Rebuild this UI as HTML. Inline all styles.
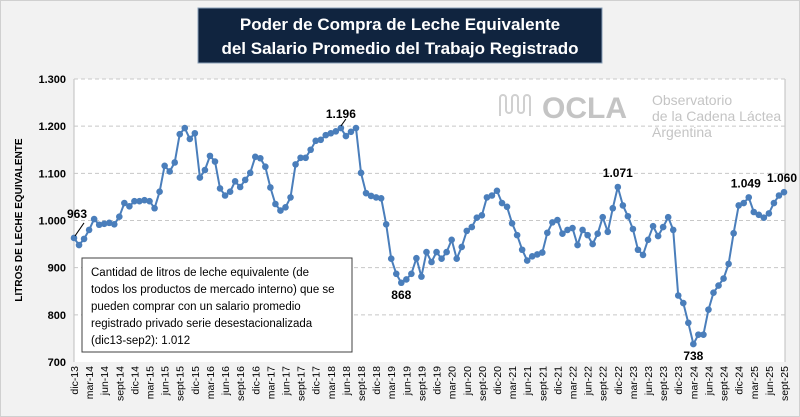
<!DOCTYPE html>
<html><head><meta charset="utf-8"><style>
html,body{margin:0;padding:0;background:#f2f2f2;}
svg{display:block;font-family:"Liberation Sans",sans-serif;}
</style></head><body>
<svg id="chart" width="800" height="417" viewBox="0 0 800 417">
<rect x="0.5" y="0.5" width="799" height="416" fill="#f2f2f2" stroke="#d0d0d0"/>
<rect x="74" y="79" width="711" height="283" fill="#ffffff"/>
<line x1="785" y1="79" x2="785" y2="362" stroke="#bfbfbf"/>
<line x1="74" y1="79" x2="74" y2="362" stroke="#bfbfbf"/>
<g>
<rect x="198" y="8" width="404" height="55" fill="#10243f" stroke="#8aa0b8"/>
<text x="400" y="30" text-anchor="middle" fill="#fff" font-size="17" font-weight="bold">Poder de Compra de Leche Equivalente</text>
<text x="400" y="54" text-anchor="middle" fill="#fff" font-size="17" font-weight="bold">del Salario Promedio del Trabajo Registrado</text>
</g>
<g fill="#c8c8c8">
<path d="M500 116 v-18 a3 3 0 0 1 6 0 v12 a3 3 0 0 0 6 0 v-12 a3 3 0 0 1 6 0 v12 a3 3 0 0 0 6 0 v-12 a3 3 0 0 1 6 0 v18" fill="none" stroke="#d0d0d0" stroke-width="2"/>
<text x="542" y="118" font-size="30" font-weight="bold" fill="#c4c4c4">OCLA</text>
<text x="652" y="105" font-size="14" fill="#c4c4c4">Observatorio</text>
<text x="652" y="121" font-size="14" fill="#c4c4c4">de la Cadena Láctea</text>
<text x="652" y="137" font-size="14" fill="#c4c4c4">Argentina</text>
</g>
<g id="grid"></g><g id="yticks"></g><g id="xticks"></g>
<text transform="translate(22,220) rotate(-90)" text-anchor="middle" font-size="10" font-weight="bold" fill="#000">LITROS DE LECHE EQUIVALENTE</text>
<g id="series"></g>
<g>
<rect x="82" y="258" width="270" height="94" fill="#fff" stroke="#404040"/>
<text font-size="11.5" fill="#000">
<tspan x="91" y="276">Cantidad de litros de leche equivalente (de</tspan>
<tspan x="91" y="293">todos los productos de mercado interno) que se</tspan>
<tspan x="91" y="310">pueden comprar con un salario promedio</tspan>
<tspan x="91" y="327">registrado privado serie desestacionalizada</tspan>
<tspan x="91" y="344">(dic13-sep2): 1.012</tspan>
</text>
</g>
<g id="labels"></g>
</svg>
<script>
const values=[963,948,961,980,1003,991,993,995,992,1008,1037,1030,1041,1041,1043,1041,1026,1061,1116,1104,1123,1183,1196,1173,1185,1091,1107,1137,1125,1068,1053,1061,1083,1071,1086,1101,1135,1132,1114,1070,1035,1021,1028,1049,1119,1133,1133,1150,1169,1171,1181,1185,1189,1196,1179,1188,1196,1101,1058,1052,1049,1047,992,919,887,868,875,887,920,881,933,912,933,919,933,959,919,944,978,986,1006,1011,1049,1053,1063,1037,1029,994,969,938,915,924,928,932,974,996,1001,972,980,984,948,980,969,950,972,1007,976,1026,1071,1032,1009,982,938,927,959,988,967,986,1007,980,841,825,783,738,758,758,811,847,862,877,908,973,1032,1037,1049,1018,1012,1006,1015,1037,1053,1060];
const monthNames=["dic","mar","jun","sept"];
const yTicks=[700,800,900,1000,1100,1200,1300];
const yTickLabels=["700","800","900","1.000","1.100","1.200","1.300"];
const annotIdx=[0,53,65,108,123,134,141];
const annotText=["963","1.196","868","1.071","738","1.049","1.060"];
const NS="http://www.w3.org/2000/svg";
const X0=74,X1=785,Y0=362,Y1=79;
function xs(i){return X0+i*(X1-X0)/(values.length-1+0.2);}
function ys(v){return Y0-(v-700)/600*(Y0-Y1);}
function mk(t,a,p){const e=document.createElementNS(NS,t);for(const k in a)e.setAttribute(k,a[k]);document.getElementById(p).appendChild(e);return e;}
yTicks.forEach((v,i)=>{
 if(v>700){const g=mk("line",{x1:X0,x2:X1,y1:ys(v),y2:ys(v),stroke:"#c8c8c8","stroke-dasharray":"4,3"},"grid");
 
 }
 const t=mk("text",{x:66,y:ys(v)+4,"text-anchor":"end","font-size":"11","font-weight":"bold"},"yticks");
 t.textContent=yTickLabels[i];
 
 
});
for(let i=0;i<values.length;i+=3){
 const yr=13+Math.floor((11+i)/12);
 const lab=monthNames[(i/3)%4]+"-"+yr;
 const t=mk("text",{transform:`translate(${xs(i)+4},366) rotate(-90)`,"text-anchor":"end","font-size":"10.5",fill:"#000"},"xticks");
 t.textContent=lab;
 
 
}
const pts=values.map((v,i)=>xs(i).toFixed(1)+","+ys(v).toFixed(1)).join(" ");
const line=mk("polyline",{points:pts,fill:"none",stroke:"#4a7ebb","stroke-width":"2"},"series");


values.forEach((v,i)=>{
 const c=mk("circle",{cx:xs(i),cy:ys(v),r:3.3,fill:"#4a7ebb"},"series");
 
 
});
const offs=[[3,-20],[0,-10],[0,16],[0,-10],[0,16],[-3,-10],[-2,-10]];
annotIdx.forEach((idx,k)=>{
 const t=mk("text",{x:xs(idx)+offs[k][0],y:ys(values[idx])+offs[k][1],"text-anchor":"middle","font-size":"12","font-weight":"bold"},"labels");
 t.textContent=annotText[k];
 
 
});
const l1=mk("line",{x1:xs(0)+1,y1:ys(values[0])-2,x2:xs(0)+10,y2:ys(values[0])-15,stroke:"#000"},"labels");


const l2=mk("line",{x1:xs(53),y1:ys(values[53])-2,x2:xs(53)+5,y2:ys(values[53])-9,stroke:"#000"},"labels");


</script>
</body></html>
